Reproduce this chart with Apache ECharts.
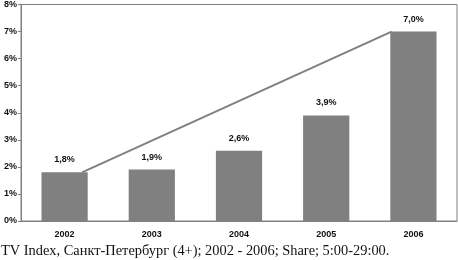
<!DOCTYPE html>
<html>
<head>
<meta charset="utf-8">
<script src="https://cdn.jsdelivr.net/npm/echarts@6/dist/echarts.min.js"></script>
<style>
  html, body { margin: 0; padding: 0; background: #fff; }
  #chart { width: 458px; height: 260px; }
</style>
</head>
<body>
<div id="chart"></div>
<script>
// данные
const years = ['2002', '2003', '2004', '2005', '2006']
const share = [1.8, 1.9, 2.6, 3.9, 7.0]
// линия тренда: от 2002 к 2006 (позиции по категориям, 0..5)
const trendX = [0.7, 4.25]
const trendY = [1.8, 7.0]

let myChart = echarts.init(document.getElementById('chart'))

let option = {
    animation: false,
    textStyle: { fontFamily: 'Liberation Sans, Arial, sans-serif' },
    title: {
        text: 'TV Index, Санкт-Петербург (4+); 2002 - 2006; Share; 5:00-29:00.',
        left: -4,
        top: 239,
        textStyle: {
            fontFamily: 'Liberation Serif, serif',
            fontWeight: 'normal',
            fontSize: 14.4,
            color: '#111'
        }
    },
    grid: {
        left: 21,
        right: 1,
        top: 4,
        bottom: 39,
        show: true,
        borderColor: '#808080',
        borderWidth: 1
    },
    xAxis: [{
        type: 'category',
        data: years,
        axisLine: { lineStyle: { color: '#808080' } },
        axisTick: { length: 4, lineStyle: { color: '#808080' } },
        axisLabel: { color: '#111', fontWeight: 'bold', fontSize: 9, margin: 9 }
    }, {
        type: 'value',
        min: 0,
        max: 5,
        show: false
    }],
    yAxis: {
        type: 'value',
        min: 0,
        max: 8,
        interval: 1,
        splitLine: { show: false },
        axisLine: { show: true, lineStyle: { color: '#808080' } },
        axisTick: { show: true, length: 3, lineStyle: { color: '#808080' } },
        axisLabel: { color: '#111', fontWeight: 'bold', fontSize: 9, margin: 4, formatter: '{value}%' }
    },
    series: [{
        type: 'bar',
        data: share,
        barWidth: '53%',
        itemStyle: { color: '#808080' },
        label: {
            show: true,
            position: 'top',
            distance: 8,
            color: '#111',
            fontWeight: 'bold',
            fontSize: 9,
            formatter: p => p.value.toFixed(1).replace('.', ',') + '%'
        }
    }, {
        type: 'line',
        xAxisIndex: 1,
        data: trendX.map((x, i) => [x, trendY[i]]),
        symbol: 'none',
        lineStyle: { color: '#808080', width: 2 },
        z: 1
    }]
}

myChart.setOption(option)
</script>
</body>
</html>
